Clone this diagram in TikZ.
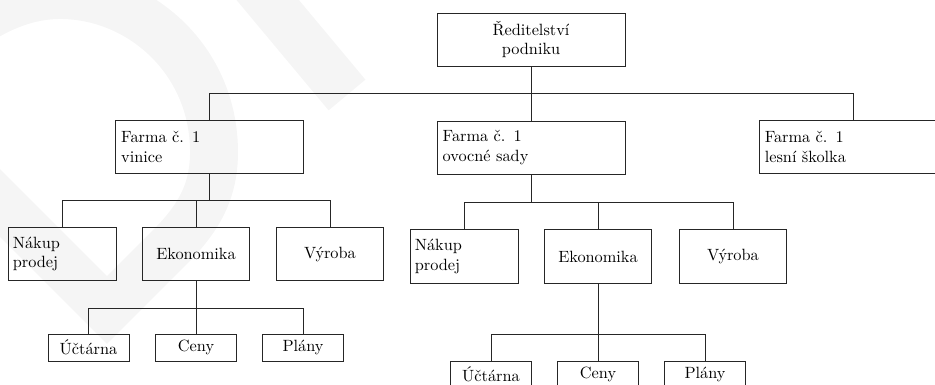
\documentclass[tikz,border=0pt]{standalone}
\usepackage{fontspec}
\begin{document}
\begin{tikzpicture}[x=0.6135pt,y=-0.6135pt,
  box/.style={draw=black!85,line width=0.5pt,inner ysep=2pt},
  farm/.style={box,text width=108.3pt,inner xsep=3.5pt,align=left,minimum height=32.5pt},
  head/.style={box,minimum width=115.3pt,minimum height=32.5pt,align=center},
  dept/.style={box,minimum width=65.6pt,minimum height=33pt},
  deptl/.style={box,text width=60.3pt,inner xsep=3pt,align=left,minimum height=33pt},
  sub/.style={box,minimum width=49.7pt,minimum height=16.6pt,inner sep=1pt},
  link/.style={draw=black!85,line width=0.5pt},
  watermark/.style={draw=black!4,line width=29.4pt,line join=miter,line cap=butt}
]
\useasboundingbox (0,0) rectangle (935,385);
\clip (0,0) rectangle (935,385);

% faint background logo
\draw[watermark] (-100,103) -- (107,310) -- (170,247)
  .. controls (200,217) and (214,190) .. (214,152)
  .. controls (214,60) and (140,-5) .. (60,-5)
  .. controls (0,-5) and (-60,40) .. (-100,103);
\draw[watermark] (251,-20) -- (347,95);

% management
\node[head] (top) at (531,39.5) {Ředitelství\\podniku};

% farms
\node[farm] (f1) at (209.5,147) {Farma č. 1\\vinice};
\node[farm] (f2) at (531,147.5) {Farma č. 1\\ovocné sady};
\node[farm] (f3) at (853,147) {Farma č. 1\\lesní školka};

% departments of the vineyard
\node[deptl] (n1) at (62,254) {Nákup\\prodej};
\node[dept] (e1) at (196,254) {Ekonomika};
\node[dept] (v1) at (330,254) {Výroba};
\node[sub] (u1) at (88.5,347.5) {Účtárna};
\node[sub] (c1) at (196,347.5) {Ceny};
\node[sub] (p1) at (303,347.5) {Plány};

% departments of the orchards
\node[deptl] (n2) at (464,256.5) {Nákup\\prodej};
\node[dept] (e2) at (598,256.5) {Ekonomika};
\node[dept] (v2) at (733,256.5) {Výroba};
\node[sub] (u2) at (491,374.5) {Účtárna};
\node[sub] (c2) at (598,374.5) {Ceny};
\node[sub] (p2) at (705,374.5) {Plány};

% bus lines
\coordinate (b0) at (0,93);
\coordinate (b1) at (0,200);
\coordinate (b2) at (0,308);
\coordinate (b3) at (0,202);
\coordinate (b4) at (0,334);

\draw[link] (top.south) -- (top.south |- b0);
\draw[link] (f1.north) -- (f1.north |- b0) -| (f3.north);
\draw[link] (f2.north) -- (f2.north |- b0);

\draw[link] (f1.south) -- (f1.south |- b1);
\draw[link] (n1.north) -- (n1.north |- b1) -| (v1.north);
\draw[link] (e1.north) -- (e1.north |- b1);
\draw[link] (e1.south) -- (c1.north);
\draw[link] (u1.north) -- (u1.north |- b2) -| (p1.north);

\draw[link] (f2.south) -- (f2.south |- b3);
\draw[link] (n2.north) -- (n2.north |- b3) -| (v2.north);
\draw[link] (e2.north) -- (e2.north |- b3);
\draw[link] (e2.south) -- (c2.north);
\draw[link] (u2.north) -- (u2.north |- b4) -| (p2.north);
\end{tikzpicture}
\end{document}
